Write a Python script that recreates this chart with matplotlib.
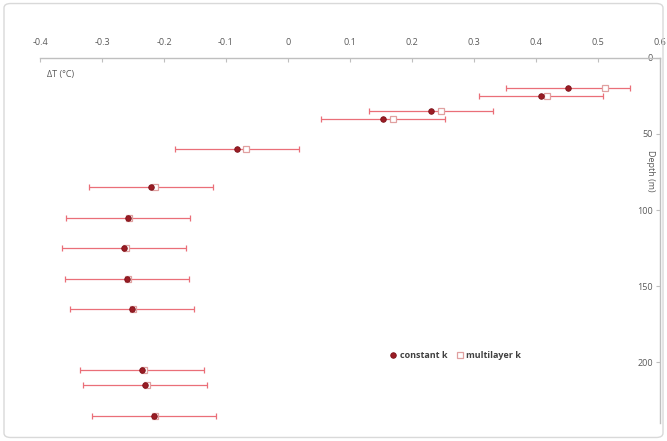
import matplotlib
matplotlib.use("Agg")
import matplotlib.pyplot as plt
from matplotlib.patches import FancyBboxPatch

depth = [20, 25, 35, 40, 60, 85, 105, 125, 145, 165, 205, 215, 235]
dT_constant = [0.452, 0.408, 0.231, 0.154, -0.083, -0.221, -0.258, -0.264, -0.260, -0.252, -0.235, -0.230, -0.216]
dT_multilayer = [0.511, 0.418, 0.246, 0.169, -0.068, -0.214, -0.256, -0.262, -0.258, -0.250, -0.233, -0.228, -0.214]
err_constant = [0.1] * 13
xticks = [-0.4, -0.3, -0.2, -0.1, 0, 0.1, 0.2, 0.3, 0.4, 0.5, 0.6]
xtick_labels = ["-0.4", "-0.3", "-0.2", "-0.1", "0", "0.1", "0.2", "0.3", "0.4", "0.5", "0.6"]
yticks = [0, 50, 100, 150, 200]

plt.rcParams['font.family'] = ['Open Sans', 'DejaVu Sans']

fig = plt.figure(figsize=(6.67, 4.41), dpi=100)
fig.patch.set_facecolor('white')
border = FancyBboxPatch((0.006, 0.008), 0.988, 0.984, boxstyle="round,pad=0,rounding_size=0.01",
                        transform=fig.transFigure, facecolor='none', edgecolor='#d9d9d9', linewidth=1)
fig.patches.append(border)

ax = fig.add_axes([0.06, 0.04, 0.9295, 0.829])
ax.set_xlim(-0.4, 0.6)
ax.set_ylim(240, 0)

ax.errorbar(dT_constant, depth, xerr=err_constant, fmt='none', ecolor='#ea6f78',
            elinewidth=0.9, capsize=2.5, capthick=0.9, zorder=2)
ax.plot(dT_multilayer, depth, linestyle='none', marker='s', markersize=4.5,
        markerfacecolor='white', markeredgecolor='#e0a0a0', markeredgewidth=0.9,
        label='multilayer k', zorder=3)
ax.plot(dT_constant, depth, linestyle='none', marker='o', markersize=4,
        markerfacecolor='#9b1c24', markeredgecolor='#7a1018', markeredgewidth=0.6,
        label='constant k', zorder=4)

for side in ['left', 'bottom']:
    ax.spines[side].set_visible(False)
for side in ['top', 'right']:
    ax.spines[side].set_color('#bfbfbf')
    ax.spines[side].set_linewidth(1.0)

ax.xaxis.set_ticks_position('top')
ax.xaxis.set_label_position('top')
ax.set_xticks(xticks)
ax.set_xticklabels(xtick_labels)
ax.tick_params(axis='x', which='major', direction='in', length=3, color='#bfbfbf',
               labelsize=6.5, labelcolor='#595959', pad=8)

ax.yaxis.set_ticks_position('right')
ax.set_yticks(yticks)
ax.tick_params(axis='y', which='major', direction='in', length=3, color='#bfbfbf',
               labelsize=6.5, labelcolor='#595959', pad=-5)
for lbl in ax.get_yticklabels():
    lbl.set_horizontalalignment('right')

ax.text(0.985, 0.69, 'Depth (m)', transform=ax.transAxes, rotation=270,
        ha='center', va='center', fontsize=6.5, color='#595959')
ax.text(0.012, 0.955, 'ΔT (°C)', transform=ax.transAxes, ha='left', va='center',
        fontsize=6.5, color='#595959')

handles, labels = ax.get_legend_handles_labels()
leg = ax.legend(handles[::-1], labels[::-1], loc='center', bbox_to_anchor=(0.67, 0.185),
                ncol=2, frameon=False, handlelength=0.8, handletextpad=0.3,
                columnspacing=1.0, prop={'weight': 'bold', 'size': 6.5})
for t in leg.get_texts():
    t.set_color('#404040')

fig.savefig('out.png', dpi=100, facecolor='white')
